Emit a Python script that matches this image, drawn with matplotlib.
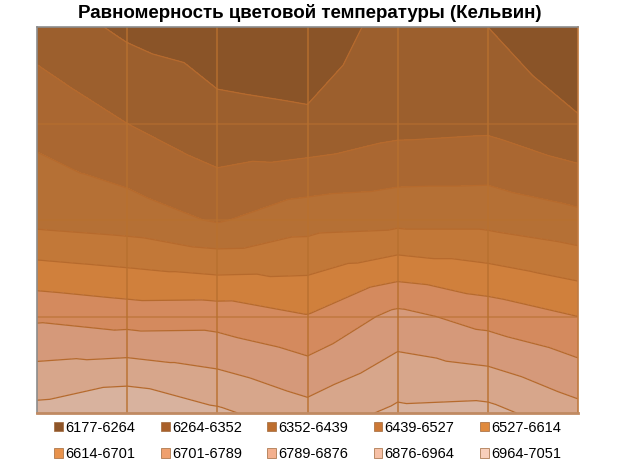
import numpy as np
import matplotlib
matplotlib.use("Agg")
import matplotlib.pyplot as plt
import matplotlib.tri as mtri
from matplotlib.patches import Patch

# ---- data ----
title = "Равномерность цветовой температуры (Кельвин)"
levels = [6177, 6264, 6352, 6439, 6527, 6614, 6701, 6789, 6876, 6964, 7051]
labels = ["6177-6264", "6264-6352", "6352-6439", "6439-6527", "6527-6614",
          "6614-6701", "6701-6789", "6789-6876", "6876-6964", "6964-7051"]
# measured colour temperature grid (rows top -> bottom, 7 columns)
row0 = [6313, 6247, 6226, 6215, 6296, 6264, 6186]
row1 = [6413, 6352, 6285, 6276, 6321, 6331, 6273]
row2 = [6501, 6482, 6431, 6490, 6500, 6500, 6464]
row3 = [6774, 6749, 6752, 6706, 6815, 6754, 6701]
row4 = [6993, 7047, 6980, 6909, 6983, 6991, 6906]

fill_colors = ["#8A5428", "#9C5F2D", "#AA6731", "#B57035", "#C27838",
               "#D0803C", "#D48A5E", "#D5997A", "#D7A68B", "#D8B29E"]
legend_colors = ["#8E5529", "#A9602A", "#BD6E2F", "#CC7836", "#E08A3E",
                 "#E8924C", "#EFA06E", "#F3B08E", "#F6C0A6", "#F8CFBB"]

Z = np.array([row0, row1, row2, row3, row4], dtype=float)
nr, nc = Z.shape

# Excel-like triangulation: each cell split into 4 triangles around its centre
xs, ys, zs = [], [], []
for r in range(nr):
    for c in range(nc):
        xs.append(c); ys.append(r); zs.append(Z[r, c])
tris = []
idx = lambda r, c: r * nc + c
for r in range(nr - 1):
    for c in range(nc - 1):
        xs.append(c + 0.5); ys.append(r + 0.5)
        zs.append(Z[r:r + 2, c:c + 2].mean())
        k = len(xs) - 1
        tl, tr, bl, br = idx(r, c), idx(r, c + 1), idx(r + 1, c), idx(r + 1, c + 1)
        tris += [[tl, tr, k], [tr, br, k], [br, bl, k], [bl, tl, k]]
tri = mtri.Triangulation(np.array(xs), np.array(ys), np.array(tris))
zs = np.array(zs)

fig = plt.figure(figsize=(6.19, 4.63), dpi=100)
ax = fig.add_axes([37 / 619, 50 / 463, 541 / 619, 386 / 463])
ax.tricontourf(tri, zs, levels=levels, colors=fill_colors)
ax.tricontour(tri, zs, levels=levels[1:-1], colors="#B66A2D", linewidths=0.9)

for c in range(1, nc - 1):
    ax.axvline(c, color="#B8702F", lw=1.2, alpha=0.85)
for r in range(1, nr - 1):
    ax.axhline(r, color="#B8702F", lw=1.2, alpha=0.6)

ax.set_xlim(0, nc - 1)
ax.set_ylim(nr - 1, 0)
ax.set_xticks([]); ax.set_yticks([])
for s in ["left", "top"]:
    ax.spines[s].set_color("#8C8C8C"); ax.spines[s].set_linewidth(1.2)
ax.spines["right"].set_color("#C07A40"); ax.spines["right"].set_linewidth(1.2)
ax.spines["bottom"].set_color("#C08A62"); ax.spines["bottom"].set_linewidth(2)

fig.text(0.5, 1 - 13 / 463, title, ha="center", va="center",
         fontsize=13.5, fontweight="bold",
         family=["Liberation Sans Narrow", "Liberation Sans", "DejaVu Sans"])

handles = [Patch(facecolor=legend_colors[i], edgecolor="#A0683A", lw=0.5)
           for i in range(10)]
# order handles so that row-wise reading matches (matplotlib fills column-wise)
order = []
for c in range(5):
    order += [c, c + 5]
leg = fig.legend([handles[i] for i in order], [labels[i] for i in order],
                 ncol=5, loc="center", bbox_to_anchor=(0.497, 1 - 441 / 463),
                 frameon=False, handlelength=0.6, handleheight=0.6,
                 handletextpad=0.15, columnspacing=1.75, labelspacing=0.85,
                 prop={"family": "Liberation Sans", "size": 10.5})
fig.savefig("out.png", dpi=100)
